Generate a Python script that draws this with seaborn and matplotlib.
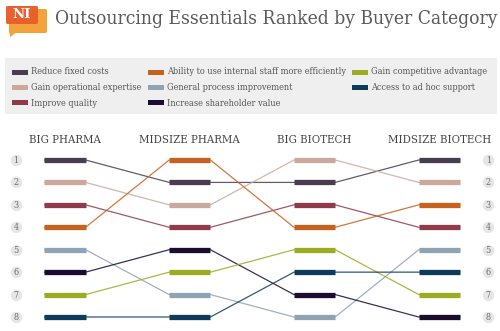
import matplotlib
matplotlib.use("Agg")
import matplotlib.pyplot as plt
from matplotlib.patches import FancyBboxPatch, Rectangle, Polygon
import seaborn as sns
import pandas as pd

# Buyer categories (columns) and the ranked outsourcing factors
segments = ["BIG PHARMA", "MIDSIZE PHARMA", "BIG BIOTECH", "MIDSIZE BIOTECH"]
factors = [
    "Reduce fixed costs",
    "Gain operational expertise",
    "Improve quality",
    "Ability to use internal staff more efficiently",
    "General process improvement",
    "Increase shareholder value",
    "Gain competitive advantage",
    "Access to ad hoc support",
]
# rank of each factor within each segment (1 = most important)
rank_big_pharma = [1, 2, 3, 4, 5, 6, 7, 8]
rank_midsize_pharma = [2, 3, 4, 1, 7, 5, 6, 8]
rank_big_biotech = [2, 1, 3, 4, 8, 7, 5, 6]
rank_midsize_biotech = [1, 2, 4, 3, 5, 8, 7, 6]
rank_labels = ["1", "2", "3", "4", "5", "6", "7", "8"]

colors = ["#4b3d51", "#caa99c", "#8f3b4b", "#c8611e",
          "#8fa3b3", "#1c0c30", "#9bac22", "#0d3c5b"]
palette = dict(zip(factors, colors))

ranks = [rank_big_pharma, rank_midsize_pharma, rank_big_biotech, rank_midsize_biotech]
half = 0.165  # half length of each rank bar, in column units

rows = []
for f_i, name in enumerate(factors):
    for c_i, r in enumerate(ranks):
        rows.append({"factor": name, "col": c_i, "x": c_i - half, "rank": r[f_i]})
        rows.append({"factor": name, "col": c_i, "x": c_i + half, "rank": r[f_i]})
path = pd.DataFrame(rows)
bars = path.groupby(["factor", "col"], sort=False)["rank"].first().reset_index()

sns.set_theme(style="white")
plt.rcParams["font.family"] = ["DejaVu Serif"]
cond = dict(family="DejaVu Serif", fontstretch="condensed")

fig = plt.figure(figsize=(5, 3.31), dpi=100)
fig.patch.set_facecolor("white")
ax = fig.add_axes([0, 0, 1, 1])
ax.set_xlim(-0.521, 3.486)
ax.set_ylim(8.624, -6.133)
ax.axis("off")

# thin connectors between consecutive columns
sns.lineplot(data=path, x="x", y="rank", hue="factor", palette=palette,
             sort=False, estimator=None, lw=0.9, alpha=0.85, legend=False, ax=ax)

# thick bars marking each factor's rank
for _, b in bars.iterrows():
    ax.hlines(b["rank"], b["col"] - half, b["col"] + half,
              colors=palette[b["factor"]], lw=3.8, capstyle="butt", zorder=3)

# rank markers on both sides
for side_x in (-0.393, 3.392):
    for i, lab in enumerate(rank_labels):
        ax.scatter(side_x, i + 1, s=68, color="#e6e6e6", zorder=2, linewidths=0)
        ax.text(side_x, i + 1.02, lab, ha="center", va="center",
                fontsize=6.5, color="#6e6e6e", zorder=3, **cond)

# column headers
for c_i, seg in enumerate(segments):
    ax.text(c_i, 0.12, seg, ha="center", va="center", fontsize=8.2,
            color="#444444", **cond)

# title and logo
fig.text(55 / 500, 1 - 19 / 331, "Outsourcing Essentials Ranked by Buyer Category",
         fontsize=13.8, color="#5a5a5a", va="center", ha="left", **cond)
fig.patches.append(FancyBboxPatch((9 / 500, 1 - 33 / 331), 38 / 500, 24 / 331,
                                  boxstyle="round,pad=0,rounding_size=0.004",
                                  transform=fig.transFigure, fc="#f3a33b", ec="none"))
fig.patches.append(Polygon([(9 / 500, 1 - 28 / 331), (10 / 500, 1 - 37 / 331),
                            (17 / 500, 1 - 32 / 331)], closed=True,
                           transform=fig.transFigure, fc="#f3a33b", ec="none"))
fig.patches.append(FancyBboxPatch((6 / 500, 1 - 24 / 331), 32 / 500, 18 / 331,
                                  boxstyle="round,pad=0,rounding_size=0.004",
                                  transform=fig.transFigure, fc="#e8602c", ec="none"))
fig.text(22 / 500, 1 - 14.5 / 331, "NI", fontsize=9.5, color="white",
         fontweight="bold", ha="center", va="center", family="DejaVu Serif")

# legend panel
fig.patches.append(Rectangle((5 / 500, 1 - 114 / 331), 492 / 500, 56 / 331,
                             transform=fig.transFigure, fc="#efefef", ec="none"))
col_x = [12, 148, 352]
row_y = [72, 87.5, 103]
for i, (name, col) in enumerate(zip(factors, colors)):
    c, r = divmod(i, 3)
    x0 = col_x[c]
    y0 = row_y[r]
    fig.patches.append(Rectangle((x0 / 500, 1 - (y0 + 2.5) / 331), 16 / 500, 5 / 331,
                                 transform=fig.transFigure, fc=col, ec="none"))
    fig.text((x0 + 19) / 500, 1 - y0 / 331, name, fontsize=6.6, color="#555555",
             va="center", ha="left", **cond)

fig.savefig("out.png", dpi=100)
